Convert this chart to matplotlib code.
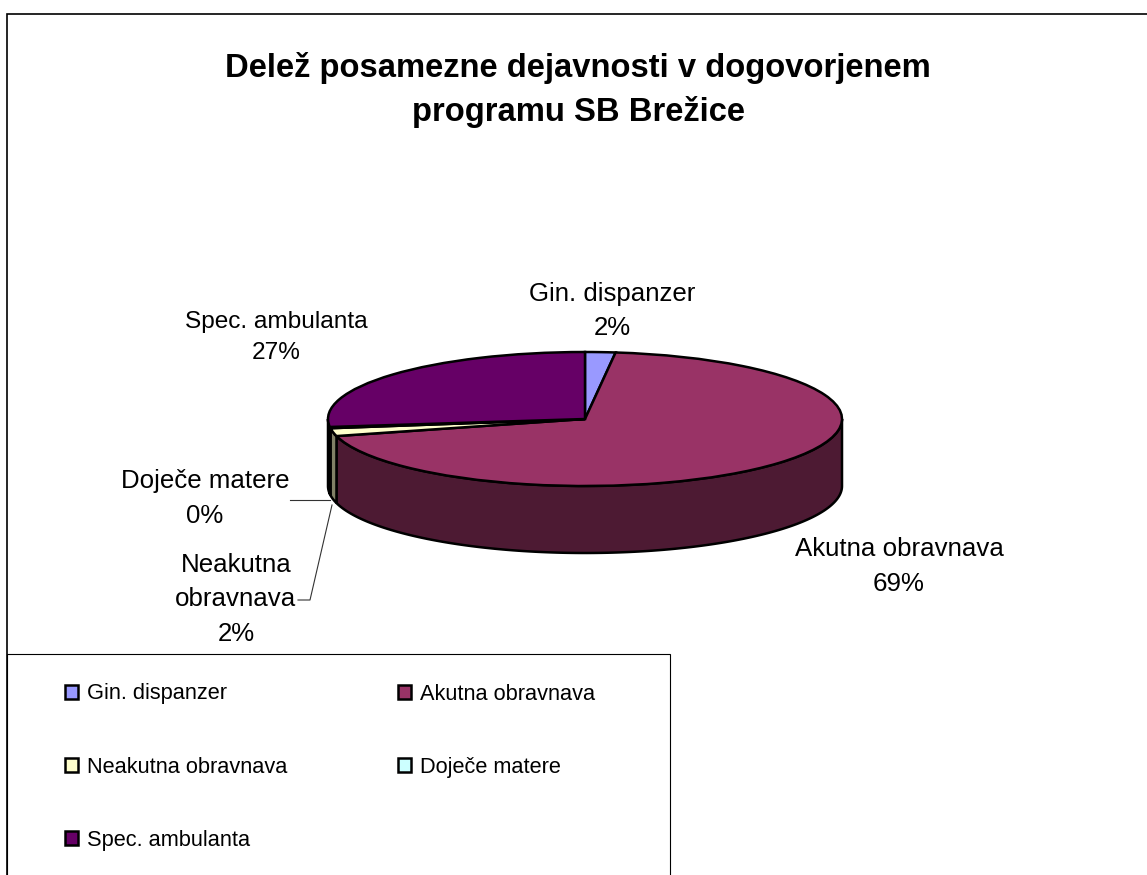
import numpy as np
import matplotlib
matplotlib.use("Agg")
import matplotlib.pyplot as plt
from matplotlib.patches import Rectangle

plt.rcParams['font.family'] = ['Liberation Sans', 'DejaVu Sans']

categories = ['Gin. dispanzer', 'Akutna obravnava', 'Neakutna obravnava', 'Doječe matere', 'Spec. ambulanta']
values = [1.9, 69.0, 1.9, 0.3, 26.9]
top_colors = ['#9999FF', '#993366', '#FFFFCC', '#CCFFFF', '#660066']
side_colors = ['#4D4D80', '#4D1A33', '#808066', '#668080', '#330033']
title_lines = ['Delež posamezne dejavnosti v dogovorjenem', 'programu SB Brežice']

W, H = 1147, 875
fig = plt.figure(figsize=(W / 100, H / 100), dpi=100, facecolor='white')

# pixel-space layer
bg = fig.add_axes([0, 0, 1, 1], zorder=0)
bg.set_xlim(0, W)
bg.set_ylim(H, 0)
bg.axis('off')
# chart frame: top and left edges only, the right edge is cut off by the picture
bg.plot([W + 5, 7, 7], [14, 14, H + 5], color='black', lw=1.2, solid_joinstyle='miter')
bg.add_patch(Rectangle((7, 654), 663, 300, fc='white', ec='black', lw=0.8))

bg.text(578, 90, '\n'.join(title_lines), ha='center', va='center', fontsize=23.6,
        fontweight='bold', linespacing=1.46)

# pie: an axes whose box is the top ellipse, so the pie is flattened
L, R, T, B = 328, 842, 352, 486
ax = fig.add_axes([L / W, 1 - B / H, (R - L) / W, (B - T) / H], zorder=2)
wedges, _ = ax.pie(values, colors=top_colors, startangle=90, counterclock=False, radius=1,
                   wedgeprops=dict(edgecolor='black', linewidth=1.8, clip_on=False, zorder=3))
ax.set_aspect('auto')
ax.set_xlim(-1, 1)
ax.set_ylim(-1, 1)

depth = 2 * 67 / (B - T)
fractions = np.cumsum([0] + values) / sum(values)
angles = 90 - 360 * fractions  # math angles, clockwise from the top
for i in range(len(values)):
    a0, a1 = angles[i], angles[i + 1]
    # only the front half of the rim (-180..0 deg, modulo) shows
    lo, hi = max(a1, -180), min(a0, 0)
    segs = [(lo, hi)] if hi > lo else []
    lo2, hi2 = max(a1, -540), min(a0, -360)
    if hi2 > lo2:
        segs.append((lo2, hi2))
    for s0, s1 in segs:
        t = np.radians(np.linspace(s0, s1, 200))
        x, y = np.cos(t), np.sin(t)
        px = np.r_[x, x[::-1]]
        py = np.r_[y, y[::-1] - depth]
        ax.fill(px, py, fc=side_colors[i], ec='black', lw=1.8, clip_on=False, zorder=2)

# data labels
label_pos = [(612, 311), (899, 566.5), (236, 599.5), (205, 498.5), (276, 337.5)]
label_names = ['Gin. dispanzer', 'Akutna obravnava', 'Neakutna\nobravnava', 'Doječe matere', 'Spec. ambulanta']
label_sizes = [18.6, 18.6, 18.6, 18.6, 17.6]
for (x, y), name, v, fs in zip(label_pos, label_names, values, label_sizes):
    bg.text(x, y, f'{name}\n{round(v)}%', ha='center', va='center', fontsize=fs, linespacing=1.56)

# leader lines
bg.plot([290, 330], [500, 500], color='#333333', lw=0.8)
bg.plot([298, 310, 332], [600, 600, 505], color='#333333', lw=0.8)

# legend: matplotlib fills columns first, the reference reads row by row
order = [0, 2, 4, 1, 3]
leg = bg.legend([wedges[i] for i in order], [categories[i] for i in order], ncol=2,
                frameon=False, fontsize=15.7,
                loc='upper left', bbox_to_anchor=(65 / W, 1 - 683.5 / H),
                handlelength=0.58, handleheight=0.58, handletextpad=0.42,
                labelspacing=2.39, columnspacing=5.1, borderpad=0, borderaxespad=0)

fig.savefig('out.png', dpi=100, facecolor='white')
